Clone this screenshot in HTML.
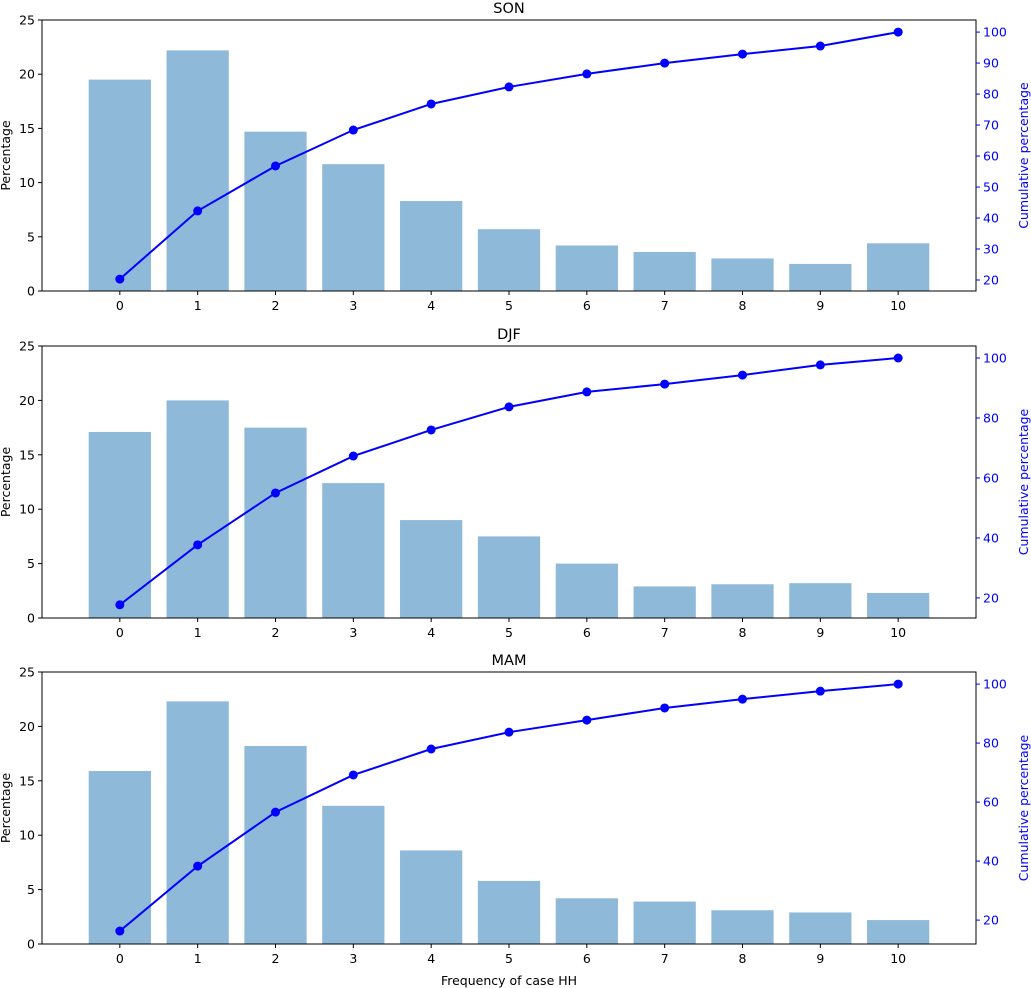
<!DOCTYPE html>
<html><head><meta charset="utf-8"><style>
body{margin:0;background:#fff;}
svg{display:block;font-family:"DejaVu Sans","Liberation Sans",sans-serif;}
</style></head><body>
<svg id="chart" width="1031" height="988" viewBox="0 0 1031 988" xmlns="http://www.w3.org/2000/svg"></svg>
<script>
const categories = [0,1,2,3,4,5,6,7,8,9,10];
const panelTitles = ["SON","DJF","MAM"];
const sonBars = [19.5,22.2,14.7,11.7,8.3,5.7,4.2,3.6,3.0,2.5,4.4];
const djfBars = [17.1,20.0,17.5,12.4,9.0,7.5,5.0,2.9,3.1,3.2,2.3];
const mamBars = [15.9,22.3,18.2,12.7,8.6,5.8,4.2,3.9,3.1,2.9,2.2];
const sonCum = [20.3,42.3,56.8,68.4,76.8,82.3,86.5,90.0,92.9,95.5,100];
const djfCum = [17.7,37.7,55.0,67.3,76.0,83.7,88.7,91.3,94.3,97.7,100];
const mamCum = [16.3,38.3,56.6,69.2,78.0,83.7,87.8,91.9,94.9,97.6,100];
const leftTicks = [0,5,10,15,20,25];
const sonRightTicks = [20,30,40,50,60,70,80,90,100];
const otherRightTicks = [20,40,60,80,100];

const NS="http://www.w3.org/2000/svg";
const svg=document.getElementById('chart');
function mk(tag,attrs,parent){const e=document.createElementNS(NS,tag);for(const k in attrs)e.setAttribute(k,attrs[k]);(parent||svg).appendChild(e);return e;}
const L=42,R=976,FS=12.5;
const xs=v=>L+(v+1)/12*(R-L);
const panels=[
 {top:20,bot:291,bars:sonBars,cum:sonCum,rmin:16.45,rmax:103.9,rt:sonRightTicks,title:panelTitles[0],key:'son'},
 {top:346,bot:618,bars:djfBars,cum:djfCum,rmin:13.3,rmax:104,rt:otherRightTicks,title:panelTitles[1],key:'djf'},
 {top:672,bot:944,bars:mamBars,cum:mamCum,rmin:11.9,rmax:104.1,rt:otherRightTicks,title:panelTitles[2],key:'mam'}
];
panels.forEach(p=>{
 const g=mk('g',{});
 
 
 const yl=v=>p.bot-v/25*(p.bot-p.top);
 const yr=v=>p.bot-(v-p.rmin)/(p.rmax-p.rmin)*(p.bot-p.top);
 const bw=0.8*(R-L)/12;
 categories.forEach((c,i)=>{
  const r=mk('rect',{x:xs(c)-bw/2,y:yl(p.bars[i]),width:bw,height:p.bot-yl(p.bars[i]),fill:'#8fb9d8'},g);
  
  
 });
 const pts=categories.map((c,i)=>xs(c)+','+yr(p.cum[i])).join(' ');
 const line=mk('polyline',{points:pts,fill:'none',stroke:'#0000ff','stroke-width':2},g);
 
 
 categories.forEach((c,i)=>{
  const d=mk('circle',{cx:xs(c),cy:yr(p.cum[i]),r:4.5,fill:'#0000ff'},g);
  
  
 });
 mk('rect',{x:L,y:p.top,width:R-L,height:p.bot-p.top,fill:'none',stroke:'#000','stroke-width':1},g);
 leftTicks.forEach(t=>{
  const y=yl(t);
  mk('line',{x1:L-4,x2:L,y1:y,y2:y,stroke:'#000'},g);
  const tx=mk('text',{x:L-7,y:y+4.5,'text-anchor':'end','font-size':FS},g);tx.textContent=t;
 });
 p.rt.forEach(t=>{
  const y=yr(t);
  mk('line',{x1:R,x2:R+4,y1:y,y2:y,stroke:'#0000ff'},g);
  const tx=mk('text',{x:R+7,y:y+4.5,'font-size':FS,fill:'#0000ff'},g);tx.textContent=t;
 });
 categories.forEach(c=>{
  mk('line',{x1:xs(c),x2:xs(c),y1:p.bot,y2:p.bot+4,stroke:'#000'},g);
  const tx=mk('text',{x:xs(c),y:p.bot+19,'text-anchor':'middle','font-size':FS},g);tx.textContent=c;
 });
 const ti=mk('text',{x:(L+R)/2,y:p.top-7,'text-anchor':'middle','font-size':14.5},g);ti.textContent=p.title;
 
 const cy=(p.top+p.bot)/2;
 const ya=mk('text',{x:0,y:0,transform:`translate(10,${cy}) rotate(-90)`,'text-anchor':'middle','font-size':FS},g);ya.textContent='Percentage';
 
 const yr2=mk('text',{x:0,y:0,transform:`translate(1028,${cy}) rotate(-90)`,'text-anchor':'middle','font-size':FS,fill:'#0000ff'},g);yr2.textContent='Cumulative percentage';
 
});
const xt=mk('text',{x:(L+R)/2,y:985,'text-anchor':'middle','font-size':FS});
xt.textContent='Frequency of case HH';


</script>
</body></html>
